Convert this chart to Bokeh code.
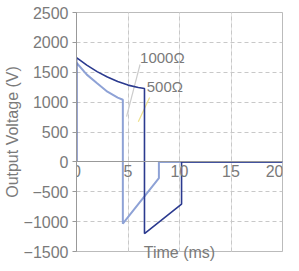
from bokeh.plotting import figure
from bokeh.models import LinearAxis, Label, Range1d, Grid, FixedTicker
from bokeh.embed import file_html
from bokeh.resources import INLINE

# --- data ---
x_ticks = [0, 5, 10, 15, 20]
y_ticks = [-1500, -1000, -500, 0, 500, 1000, 1500, 2000, 2500]
x_title = "Time (ms)"
y_title = "Output Voltage (V)"

# 1000 ohm load (dark)
t_1000 = [0, 0, 1, 2, 3, 4, 5, 6, 6.6, 6.6, 10.2, 10.2, 20]
v_1000 = [0, 1745, 1620, 1510, 1420, 1345, 1285, 1245, 1227, -1200, -706, 0, 0]

# 500 ohm load (light)
t_500 = [0, 0, 1, 2, 3, 4, 4.5, 4.5, 8.0, 8.0, 20]
v_500 = [0, 1660, 1460, 1315, 1175, 1075, 1040, -1035, -270, 0, 0]

# annotation labels and their leader lines
label_text = ["1000Ω", "500Ω"]
label_t = [6.17, 6.82]
label_v = [1748, 1261]
leader_t = [[6.17, 4.86], [7.1, 6.0]]
leader_v = [[1630, 756], [1076, 672]]

FONT = "Liberation Sans"
TXT = "#7a7a7a"

p = figure(width=283, height=263, output_backend="svg", toolbar_location=None,
           x_range=Range1d(0, 20), y_range=Range1d(-1500, 2500),
           x_axis_location=None, min_border_top=12, min_border_right=1,
           min_border_left=0, min_border_bottom=0)
p.background_fill_color = "white"
p.border_fill_color = "white"
p.outline_line_color = "#aaaaaa"
p.outline_line_alpha = 0.8

# y axis
ya = p.yaxis[0]
ya.ticker = y_ticks
ya.axis_label = y_title
ya.axis_label_text_font = FONT
ya.axis_label_text_font_style = "normal"
ya.axis_label_text_font_size = "16px"
ya.axis_label_text_color = TXT
ya.axis_label_standoff = 0
ya.major_label_text_font = FONT
ya.major_label_text_font_size = "16px"
ya.major_label_text_color = TXT
ya.major_tick_out = 4
ya.major_tick_in = 0
ya.minor_tick_out = 0
ya.minor_tick_in = 0
ya.major_label_standoff = 4
ya.axis_line_color = "#999999"
ya.major_tick_line_color = "#999999"

# x axis crossing at V = 0 (tick labels only)
xa = LinearAxis(fixed_location=0, ticker=x_ticks)
xa.major_label_text_font = FONT
xa.major_label_text_font_size = "16px"
xa.major_label_text_color = TXT
xa.major_tick_out = 0
xa.major_tick_in = 0
xa.minor_tick_out = 0
xa.minor_tick_in = 0
xa.major_label_standoff = 3
xa.axis_line_color = "#999999"
p.add_layout(xa, "below")

# bottom axis that only carries the x title
xb = LinearAxis(ticker=FixedTicker(ticks=[]), axis_label=x_title)
xb.axis_label_text_font = FONT
xb.axis_label_text_font_size = "16px"
xb.axis_label_text_font_style = "normal"
xb.axis_label_text_color = TXT
xb.axis_label_standoff = -8
xb.major_label_standoff = 0
xb.major_tick_out = 0
xb.major_tick_in = 0
xb.minor_tick_out = 0
xb.minor_tick_in = 0
xb.axis_line_color = None
p.add_layout(xb, "below")

# grids
p.ygrid.ticker = y_ticks
p.ygrid.grid_line_color = "#c8c8c8"
p.ygrid.grid_line_dash = "4 3"
xg = Grid(dimension=0, ticker=xa.ticker, grid_line_color="#c8c8c8", grid_line_dash="4 3")
p.add_layout(xg)

# leader lines
p.line(leader_t[0], leader_v[0], line_color="#cccccc", line_width=1.2)
p.line(leader_t[1], leader_v[1], line_color="#eee08a", line_width=1.2)

# waveforms
p.line(t_500, v_500, line_color="#8ea2d6", line_width=2)
p.line(t_1000, v_1000, line_color="#2b3a8f", line_width=1.6)

for s, tt, vv in zip(label_text, label_t, label_v):
    p.add_layout(Label(x=tt, y=vv, text=s, text_font=FONT, text_font_size="15px",
                       text_color=TXT, text_baseline="middle", text_align="left"))

open("out.html", "w").write(file_html(p, INLINE))
